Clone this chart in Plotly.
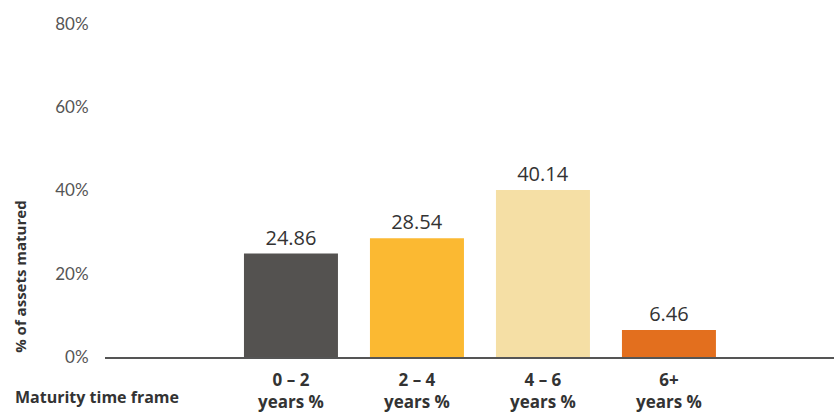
import plotly.graph_objects as go

categories = ["0 – 2<br>years %", "2 – 4<br>years %", "4 – 6<br>years %", "6+<br>years %"]
values = [24.86, 28.54, 40.14, 6.46]
colors = ["#545250", "#FBB932", "#F5DFA5", "#E36F1E"]
y_ticks = [0, 20, 40, 60, 80]
y_tick_labels = ["0%", "20%", "40%", "60%", "80%"]

fig = go.Figure(go.Bar(
    x=categories, y=values,
    marker=dict(color=colors, line=dict(width=0)),
    text=[f"{v:.2f}" for v in values],
    textposition="outside",
    cliponaxis=False,
    textfont=dict(family="Open Sans", size=20, color="#333333"),
))

fig.update_layout(
    width=834, height=412,
    margin=dict(l=105, r=0, t=24, b=55),
    plot_bgcolor="white", paper_bgcolor="white",
    bargap=0.254,
    showlegend=False,
    font=dict(family="Open Sans"),
)
fig.update_xaxes(
    type="category", categoryorder="array", categoryarray=categories,
    range=[-1.476, 4.31], automargin=False,
    showline=True, linecolor="#555555", linewidth=1.5,
    showgrid=False, zeroline=False,
    ticks="outside", ticklen=7, tickcolor="rgba(0,0,0,0)",
    tickfont=dict(family="Open Sans", size=17, color="#333333", weight="bold"),
)
fig.update_yaxes(
    range=[0, 80], tickvals=y_ticks, ticktext=y_tick_labels,
    automargin=False,
    showgrid=False, zeroline=False, showline=False,
    ticks="outside", ticklen=12, tickcolor="rgba(0,0,0,0)",
    tickfont=dict(family="Lato", size=17, color="#555555"),
)
fig.add_annotation(
    text="<b>% of assets matured</b>", textangle=-90,
    xref="paper", yref="paper", x=-0.117, y=0.24,
    xanchor="center", yanchor="middle", showarrow=False,
    font=dict(family="Open Sans", size=15, color="#333333"),
)
fig.add_annotation(
    text="<b>Maturity time frame</b>",
    xref="paper", yref="paper", x=-0.126, y=-0.158,
    xanchor="left", yanchor="bottom", showarrow=False,
    font=dict(family="Open Sans", size=16, color="#333333"),
)
fig.write_html("out.html")
